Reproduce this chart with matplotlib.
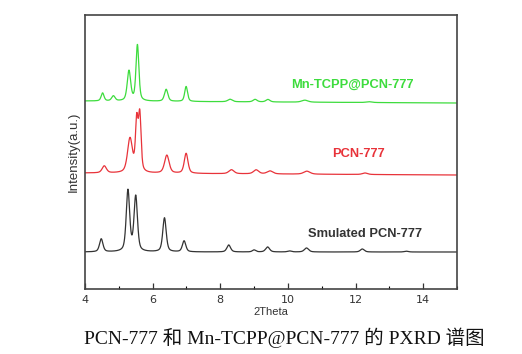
import numpy as np
import matplotlib
matplotlib.use("Agg")
import matplotlib.pyplot as plt

# ---- data (peak positions in 2theta, heights and FWHM) ----
sim_pos = [4.48, 5.27, 5.50, 6.35, 6.93, 8.25, 9.00, 9.40, 10.05, 10.55, 12.20, 13.50]
sim_h   = [13, 61, 55, 34, 11, 7, 2, 5, 1, 4, 3, 0.8]
sim_f   = [0.12, 0.12, 0.12, 0.12, 0.12, 0.13, 0.12, 0.14, 0.14, 0.15, 0.14, 0.14]
sim_base = 37

pcn_pos = [4.57, 5.33, 5.53, 5.62, 6.42, 6.99, 8.33, 9.06, 9.47, 10.56, 12.28]
pcn_h   = [7, 34, 50, 56, 18, 20, 4, 4, 3, 3, 1.5]
pcn_f   = [0.15, 0.17, 0.09, 0.09, 0.16, 0.13, 0.18, 0.18, 0.2, 0.22, 0.18]
pcn_base = 116

mn_pos = [4.52, 4.84, 5.30, 5.55, 6.40, 6.99, 8.29, 9.03, 9.41, 10.50, 12.40]
mn_h   = [8, 5, 30, 56, 12, 15, 2.5, 2.5, 2.5, 2, 0.8]
mn_f   = [0.1, 0.12, 0.12, 0.1, 0.12, 0.1, 0.16, 0.14, 0.14, 0.22, 0.2]
mn_base = 188

labels = ["Smulated PCN-777", "PCN-777", "Mn-TCPP@PCN-777"]
colors = ["#333333", "#e8333a", "#3ddc3d"]
caption = "PCN-777 和 Mn-TCPP@PCN-777 的 PXRD 谱图"

x = np.linspace(4, 15, 3000)
ETA = 0.5

def profile(pos, h, f, base, slope):
    y = np.full_like(x, float(base)) - slope * (x - 4) / 11
    for p, hh, ff in zip(pos, h, f):
        d = x - p
        lor = 1 / (1 + (2 * d / ff) ** 2)
        gau = np.exp(-4 * np.log(2) * (d / ff) ** 2)
        y += hh * (ETA * lor + (1 - ETA) * gau)
    return y

fig = plt.figure(figsize=(5.22, 3.54), dpi=100)
ax = fig.add_axes([85/522, 65/354, 372/522, 274/354])

series = [(sim_pos, sim_h, sim_f, sim_base, 0),
          (pcn_pos, pcn_h, pcn_f, pcn_base, 2),
          (mn_pos, mn_h, mn_f, mn_base, 2)]
for (pos, h, f, base, sl), c in zip(series, colors):
    ax.plot(x, profile(pos, h, f, base, sl), color=c, lw=0.9)

ax.set_xlim(4, 15)
ax.set_ylim(0, 274)
ax.set_xticks([4, 6, 8, 10, 12, 14])
ax.set_xticks([5, 7, 9, 11, 13, 15], minor=True)
ax.set_yticks([])
ax.tick_params(axis="x", direction="in", length=4, width=0.9, labelsize=8,
               colors="#333333", pad=4)
ax.tick_params(axis="x", which="minor", direction="in", length=2.5, width=0.8)
for s in ax.spines.values():
    s.set_color("#444444")
    s.set_linewidth(1.2)

lab_font = dict(family="Liberation Sans")
ax.set_xlabel("2Theta", fontsize=8, labelpad=2, **lab_font, color="#333333")
ax.set_ylabel("Intensity(a.u.)", fontsize=9.5, labelpad=4, **lab_font, color="#333333")

ax.text(10.6, 55, labels[0], color=colors[0], fontsize=9.3, fontweight="bold",
        ha="left", va="center", **lab_font)
ax.text(11.3, 135, labels[1], color=colors[1], fontsize=9.3, fontweight="bold",
        ha="left", va="center", **lab_font)
ax.text(10.1, 204, labels[2], color=colors[2], fontsize=9.3, fontweight="bold",
        ha="left", va="center", **lab_font)

fig.text(284/522, 1 - 338/354, caption, ha="center", va="center", fontsize=14,
         family=["Liberation Serif", "Noto Sans CJK SC"], color="#111111")

fig.savefig("out.png", dpi=100, facecolor="white")
